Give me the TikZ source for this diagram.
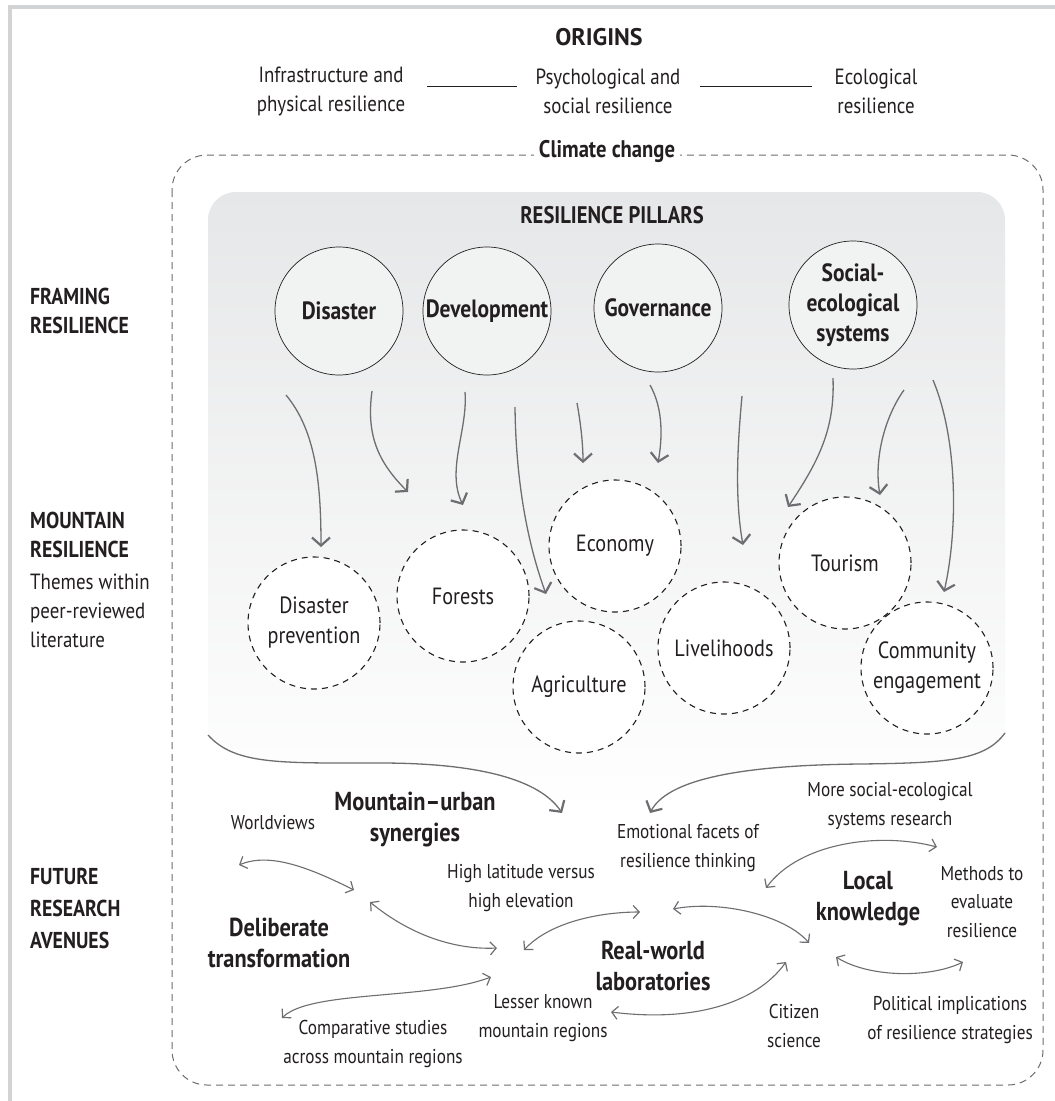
\documentclass[tikz,border=0pt]{standalone}
\usepackage{fontspec}
\setmainfont{PT Sans}[FakeStretch=0.86]
\newfontfamily\widecaps{PT Sans}[FakeStretch=1.0]
\usetikzlibrary{arrows.meta,calc}
\definecolor{framegray}{HTML}{D1D3D4}
\definecolor{arrgray}{HTML}{6D6E71}
\definecolor{boxgray}{HTML}{E6E7E8}
\definecolor{pillfill}{HTML}{F1F2F2}
\definecolor{ink}{HTML}{231F20}
\tikzset{
  txt/.style={font=\fontsize{22}{29}\selectfont, align=center, text=ink, inner sep=0pt},
  btxt/.style={font=\fontsize{20}{28.5}\selectfont, align=center, text=ink, inner sep=0pt},
  ttl/.style={font=\bfseries\fontsize{26}{31}\selectfont, align=center, text=ink, inner sep=0pt},
  side/.style={font=\bfseries\fontsize{23}{29}\selectfont, align=left, text=ink, inner sep=0pt, anchor=west},
  sidetxt/.style={font=\fontsize{22}{29}\selectfont, align=left, text=ink, inner sep=0pt, anchor=west},
  pillar/.style={circle, draw=ink, line width=0.7pt, fill=pillfill, minimum size=128pt, inner sep=0pt,
    font=\bfseries\fontsize{25}{30}\selectfont, align=center, text=ink},
  theme/.style={circle, draw=ink, dash pattern=on 6pt off 5pt, line width=1.1pt, fill=white,
    minimum size=132pt, inner sep=0pt, font=\fontsize{23.5}{30}\selectfont, align=center, text=ink},
  bigarr/.style={draw=arrgray, line width=1.3pt, -{Straight Barb[length=8pt,width=18pt,line width=2.2pt]}},
  dblarr/.style={draw=arrgray, line width=1.1pt,
    {Straight Barb[length=6pt,width=13pt,line width=1.2pt]}-{Straight Barb[length=6pt,width=13pt,line width=1.2pt]}},
}
\begin{document}
\begin{tikzpicture}[x=1pt,y=-1pt]
\useasboundingbox (0,0) rectangle (1055,1101);
\fill[white] (0,0) rectangle (1055,1101);
% frame
\fill[framegray] (8,5) rectangle (1055,9);
\fill[framegray] (8,5) rectangle (12,1101);

% origins
\node[txt, font=\widecaps\bfseries\fontsize{24}{29}\selectfont] (orig) at (599,37) {ORIGINS};
\node[txt] (infra) at (331,91) {Infrastructure and\\physical resilience};
\node[txt] (psych) at (608,91) {Psychological and\\social resilience};
\node[txt] (ecol) at (876,91) {Ecological\\resilience};
\coordinate (r1a) at (427,86); \coordinate (r1b) at (517,86);
\coordinate (r2a) at (700,86); \coordinate (r2b) at (812,86);
\draw[ink, line width=1pt] (r1a) -- (r1b);
\draw[ink, line width=1pt] (r2a) -- (r2b);

% gray pillar region with funnel bottom
\shade[top color=boxgray, middle color=boxgray!80!white, bottom color=white]
  (208,735) -- (208,220) .. controls (208,204.5) and (220.5,192) .. (236,192)
  -- (977,192) .. controls (992.5,192) and (1005,204.5) .. (1005,220)
  -- (1005,733) .. controls (985,760) and (950,763) .. (860,764)
  .. controls (760,765) and (670,775) .. (650,813)
  -- (562,813) .. controls (540,780) and (480,763) .. (380,763)
  .. controls (280,763) and (235,765) .. (208,735) -- cycle;

% dashed climate box
\draw[arrgray, dash pattern=on 7pt off 5pt, line width=1pt, rounded corners=35pt] (172,155) rectangle (1043,1085);
\node[txt, font=\bfseries\fontsize{24}{29}\selectfont, fill=white, inner xsep=5pt, inner ysep=2pt] (cc) at (607,151) {Climate change};

\node[txt, font=\bfseries\fontsize{24}{29}\selectfont] (rp) at (612,215) {RESILIENCE PILLARS};

% side labels
\node[side] (fr) at (30,311) {FRAMING\\RESILIENCE};
\node[side] (mr) at (30,535) {MOUNTAIN\\RESILIENCE};
\node[sidetxt] (th) at (30,611) {Themes within\\peer-reviewed\\literature};
\node[side, font=\bfseries\fontsize{23}{32}\selectfont] (fra) at (30,908) {FUTURE\\RESEARCH\\AVENUES};

% pillars
\node[pillar] (dis) at (339,311) {Disaster};
\node[pillar] (dev) at (487,311) {Development};
\node[pillar] (gov) at (658,308) {Governance};
\node[pillar] (ses) at (853,305) {Social-\\ecological\\systems};

% themes
\node[theme] (dp) at (314,623) {Disaster\\prevention};
\node[theme] (fo) at (463,596) {Forests};
\node[theme] (ec) at (615,546) {Economy};
\node[theme] (ag) at (579,687) {Agriculture};
\node[theme] (li) at (724,648) {Livelihoods};
\node[theme] (to) at (845,563) {Tourism};
\node[theme] (ce) at (927,668) {Community\\engagement};

% pillar -> theme arrows
\draw[bigarr] ([shift={(-53,84)}]dis.center) .. controls (315,430) and (321,480) .. ([shift={(7,-76)}]dp.center);
\draw[bigarr] ([shift={(33,80)}]dis.center) .. controls (366,435) and (378,462) .. ([shift={(-55,-104)}]fo.center);
\draw[bigarr] ([shift={(-22,81)}]dev.center) .. controls (468,430) and (446,470) .. ([shift={(0,-91)}]fo.center);
\draw[bigarr] ([shift={(28,96)}]dev.center) .. controls (516,490) and (530,550) .. ([shift={(-33,-93)}]ag.center);
\draw[bigarr] ([shift={(90,92)}]dev.center) .. controls (581,425) and (583,445) .. ([shift={(-32,-83)}]ec.center);
\draw[bigarr] ([shift={(-8,77)}]gov.center) .. controls (664,410) and (662,440) .. ([shift={(43,-83)}]ec.center);
\draw[bigarr] ([shift={(84,88)}]gov.center) .. controls (737,450) and (735,500) .. ([shift={(19,-103)}]li.center);
\draw[bigarr] ([shift={(-20,73)}]ses.center) .. controls (835,430) and (818,462) .. ([shift={(-57,-56)}]to.center);
\draw[bigarr] ([shift={(51,85)}]ses.center) .. controls (884,418) and (874,460) .. ([shift={(35,-68)}]to.center);
\draw[bigarr] ([shift={(80,75)}]ses.center) .. controls (958,440) and (958,530) .. ([shift={(17,-76)}]ce.center);

% funnel arrows
\coordinate (fl) at (208,735); \coordinate (flt) at (562,813);
\coordinate (fr0) at (1005,733); \coordinate (frt) at (650,813);
\draw[bigarr] (fl) .. controls (235,765) and (280,763) .. (380,763) .. controls (480,763) and (540,780) .. (flt);
\draw[bigarr] (fr0) .. controls (985,760) and (950,763) .. (860,764) .. controls (760,765) and (670,775) .. (frt);

% future research avenues texts
\node[btxt] (wv) at (273,823) {Worldviews};
\node[ttl] (mu) at (415,820) {Mountain--urban\\synergies};
\node[btxt] (hl) at (521,888) {High latitude versus\\high elevation};
\node[btxt] (em) at (688,848) {Emotional facets of\\resilience thinking};
\node[btxt] (ms) at (890,806) {More social-ecological\\systems research};
\node[btxt] (me) at (982,902) {Methods to\\evaluate\\resilience};
\node[ttl] (lk) at (868,899) {Local\\knowledge};
\node[ttl] (dt) at (279,943) {Deliberate\\transformation};
\node[ttl] (rw) at (653,966) {Real-world\\laboratories};
\node[btxt] (lm) at (543,1018) {Lesser known\\mountain regions};
\node[btxt] (cs) at (373,1044) {Comparative studies\\across mountain regions};
\node[btxt] (ci) at (794,1026) {Citizen\\science};
\node[btxt] (pi) at (950,1020) {Political implications\\of resilience strategies};

% double arrows
\coordinate (a1a) at (239,865); \coordinate (a1b) at (354,890);
\coordinate (a2a) at (370,902); \coordinate (a2b) at (497,948);
\coordinate (a3a) at (282,1018); \coordinate (a3b) at (491,977);
\coordinate (a4a) at (524,950); \coordinate (a4b) at (640,912);
\coordinate (a5a) at (673,909); \coordinate (a5b) at (809,943);
\coordinate (a6a) at (611,1012); \coordinate (a6b) at (786,962);
\coordinate (a7a) at (766,888); \coordinate (a7b) at (937,847);
\coordinate (a8a) at (836,957); \coordinate (a8b) at (963,962);
\draw[dblarr] (a1a) .. controls (270,852) and (310,868) .. (a1b);
\draw[dblarr] (a2a) .. controls (410,935) and (455,950) .. (a2b);
\draw[dblarr] (a3a) .. controls (310,990) and (430,1000) .. (a3b);
\draw[dblarr] (a4a) .. controls (550,922) and (600,912) .. (a4b);
\draw[dblarr] (a5a) .. controls (720,900) and (785,915) .. (a5b);
\draw[dblarr] (a6a) .. controls (690,1022) and (755,1005) .. (a6b);
\draw[dblarr] (a7a) .. controls (800,842) and (880,832) .. (a7b);
\draw[dblarr] (a8a) .. controls (870,978) and (930,978) .. (a8b);
\end{tikzpicture}
\end{document}
